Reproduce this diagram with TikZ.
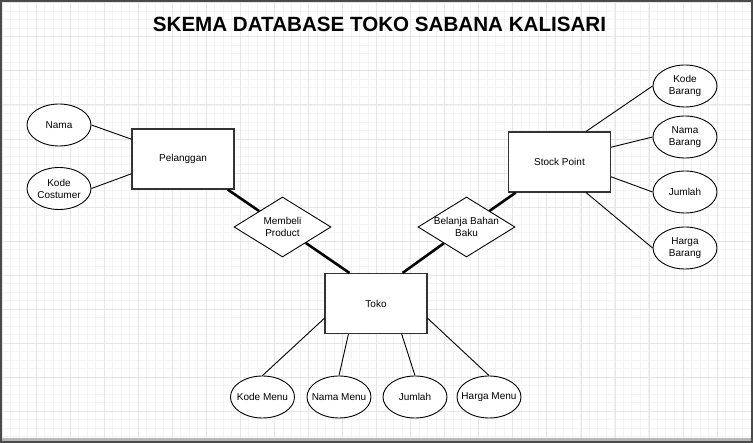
\documentclass[tikz,border=0pt]{standalone}
\usepackage{fontspec}
\setmainfont{Liberation Sans}
\usepackage{tikz}
\usetikzlibrary{shapes.geometric,positioning}

\definecolor{minorgrid}{HTML}{F3F3F3}
\definecolor{majorgrid}{HTML}{E6E6E6}
\definecolor{framegray}{HTML}{4A4A4A}
\definecolor{boxline}{HTML}{333333}

\begin{document}
\begin{tikzpicture}[x=1pt,y=-1pt,
        entity/.style={draw=boxline,line width=1.2pt,fill=white,minimum width=102,minimum height=60,inner sep=0pt,font=\fontsize{10}{12}\selectfont},
        attr/.style={draw,ellipse,line width=0.9pt,fill=white,minimum width=64,minimum height=42,inner sep=-5pt,align=center,font=\fontsize{10}{12}\selectfont},
        rel/.style={draw,diamond,line width=0.9pt,fill=white,aspect=1.62,minimum width=97,minimum height=60,inner sep=-2pt,align=center,font=\fontsize{10}{12}\selectfont},
        link/.style={line width=0.9pt},
        tlink/.style={line width=2.6pt}]
    \useasboundingbox (0,0) rectangle (753,443);
    \fill[white] (0,0) rectangle (753,443);
    \foreach \i in {0,...,88}
        \draw[minorgrid,line width=0.6pt] ({2+8.51*\i},2) -- ({2+8.51*\i},439);
    \foreach \j in {0,...,51}
        \draw[minorgrid,line width=0.6pt] (2,{2.7+8.51*\j}) -- (751,{2.7+8.51*\j});
    \foreach \i in {0,...,22}
        \draw[majorgrid,line width=0.7pt] ({2+34.05*\i},2) -- ({2+34.05*\i},439);
    \foreach \j in {0,...,12}
        \draw[majorgrid,line width=0.7pt] (2,{2.7+34.05*\j}) -- (751,{2.7+34.05*\j});
    \fill[framegray!40] (2,438.5) rectangle (751,441);
    \draw[framegray,line width=2pt] (1,1) rectangle (752,442);

    \node (title) at (379.5,24.5) {\fontsize{20.6}{24}\selectfont\bfseries SKEMA DATABASE TOKO SABANA KALISARI};

    % entitas
    \node[entity] (pel) at (183,159) {Pelanggan};
    \node[entity] (stock) at (559.5,162) {Stock Point};
    \node[entity] (toko) at (376,303.5) {Toko};

    % relasi
    \node[rel] (beli) at (282.5,227) {Membeli\\Product};
    \node[rel] (belanja) at (466.5,227) {Belanja Bahan\\Baku};

    % atribut
    \node[attr] (nama) at (59,125) {Nama};
    \node[attr] (kodecust) at (59,188.5) {Kode\\Costumer};
    \node[attr] (kodebrg) at (685,86) {Kode\\Barang};
    \node[attr] (namabrg) at (685,137) {Nama\\Barang};
    \node[attr] (jumlahbrg) at (685,192) {Jumlah};
    \node[attr] (hargabrg) at (685,248) {Harga\\Barang};
    \node[attr] (kodemenu) at (262.5,397) {Kode Menu};
    \node[attr] (namamenu) at (339,397) {Nama Menu};
    \node[attr] (jumlahmenu) at (415,397) {Jumlah};
    \node[attr] (hargamenu) at (489,397) {Harga Menu};

    \draw[tlink] (pel) -- (beli);
    \draw[tlink] (beli) -- (toko.131.4);
    \draw[tlink] (stock) -- (belanja);
    \draw[tlink] (belanja) -- (toko.49.7);

    \draw[link] (nama.east) -- (pel.159.6);
    \draw[link] (kodecust.east) -- (pel.196.4);
    \draw[link] (kodebrg.west) -- (stock.49.6);
    \draw[link] (namabrg.west) -- (stock.16.5);
    \draw[link] (jumlahbrg.west) -- (stock.-16.5);
    \draw[link] (hargabrg.west) -- (stock.-49.6);
    \draw[link] (kodemenu.north) -- (toko.196.9);
    \draw[link] (namamenu.north) -- (toko.228.6);
    \draw[link] (jumlahmenu.north) -- (toko.310.3);
    \draw[link] (hargamenu.north) -- (toko.-16.9);
\end{tikzpicture}
\end{document}
